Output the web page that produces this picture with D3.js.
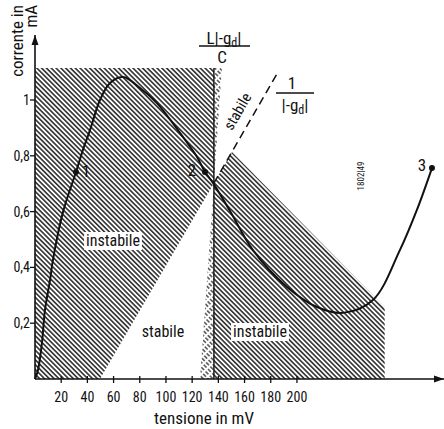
<!DOCTYPE html>
<html>
<head>
<meta charset="utf-8">
<script src="https://cdn.jsdelivr.net/npm/d3@7"></script>
<style>
	body { margin: 0; background: #fff; }
	svg text { font-family: 'Liberation Sans Narrow', 'Roboto Condensed', 'Roboto', sans-serif; font-stretch: condensed; fill: #111; }
</style>
</head>
<body>
<div id="chart"></div>
<script>

/* tick values and labels */
var xTicks = [20, 40, 60, 80, 100, 120, 140, 160, 180, 200]
var yTicks = [0.2, 0.4, 0.6, 0.8, 1]
var yTickLabels = ['0,2', '0,4', '0,6', '0,8', '1']

/* diode characteristic, tensione (mV) / corrente (mA) */
var curveV = [0, 2.3, 5.3, 7.6, 11.5, 13.7, 21.4, 31.3, 36.6, 42, 49.6, 57.3, 67.2, 80.2, 93.1, 110.7, 123.7, 129.8, 135.9, 148.9, 166.4, 192.4, 215.3, 235.1, 258, 278.6, 291.6, 303.1]
var curveI = [0, 0.032, 0.129, 0.247, 0.355, 0.427, 0.599, 0.742, 0.821, 0.892, 1.0, 1.061, 1.082, 1.043, 0.989, 0.882, 0.796, 0.742, 0.703, 0.602, 0.462, 0.330, 0.258, 0.237, 0.283, 0.462, 0.606, 0.756]

/* working points */
var pointNames = ['1', '2', '3']
var pointV = [31.3, 129.8, 303.1]
var pointI = [0.742, 0.742, 0.756]

/* hatched regions (instabile) */
var regionLeft = [[0, 1.115], [136.6, 1.115], [136.6, 0.702], [49.6, 0], [0, 0]]
var regionBand = [[136.6, 0.702], [150.4, 0.814], [267, 0.258], [267, 0], [136.6, 0]]
/* thin strips between vertical line and L|-gd|/C line */
var stripTop = [[136.6, 1.115], [142.7, 1.115], [136.6, 0.702]]
var stripBottom = [[136.6, 0.702], [136.6, 0], [126, 0]]

/* boundary lines */
var lineVert = [[136.6, 1.115], [136.6, 0]]
var lineGd = [[136.6, 0.702], [185.5, 1.10]]

var width = 444, height = 429

var x = d3.scaleLinear().domain([0, 310]).range([35, 441])
var y = d3.scaleLinear().domain([0, 1]).range([379, 100])

var svg = d3.select('#chart').append('svg')
	.attr('width', width)
	.attr('height', height)

var defs = svg.append('defs')

var hatch = defs.append('pattern')
	.attr('id', 'hatch')
	.attr('patternUnits', 'userSpaceOnUse')
	.attr('width', 3.4)
	.attr('height', 10)
	.attr('patternTransform', 'rotate(-45)')
hatch.append('line')
	.attr('x1', 1.7).attr('y1', -1)
	.attr('x2', 1.7).attr('y2', 11)
	.attr('stroke', '#111')
	.attr('stroke-width', 1.4)

var hatch2 = defs.append('pattern')
	.attr('id', 'hatch2')
	.attr('patternUnits', 'userSpaceOnUse')
	.attr('width', 3.4)
	.attr('height', 6)
	.attr('patternTransform', 'rotate(-45)')
hatch2.append('line')
	.attr('x1', 1.7).attr('y1', 0)
	.attr('x2', 1.7).attr('y2', 4)
	.attr('stroke', '#222')
	.attr('stroke-width', 1.2)

var arrow = defs.append('marker')
	.attr('id', 'arrow')
	.attr('viewBox', '0 0 10 10')
	.attr('refX', 10).attr('refY', 5)
	.attr('markerWidth', 10).attr('markerHeight', 10)
	.attr('markerUnits', 'userSpaceOnUse')
	.attr('orient', 'auto')
arrow.append('path')
	.attr('d', 'M0,1.5 L10,5 L0,8.5 Z')
	.attr('fill', '#111')

var poly = d3.line()
	.x(function (d) { return x(d[0]) })
	.y(function (d) { return y(d[1]) })

/* hatched areas */
svg.append('path').datum(regionLeft)
	.attr('d', function (d) { return poly(d) + 'Z' })
	.attr('fill', 'url(#hatch)')
svg.append('path').datum(regionBand)
	.attr('d', function (d) { return poly(d) + 'Z' })
	.attr('fill', 'url(#hatch)')
svg.selectAll('.strip').data([stripTop, stripBottom]).enter()
	.append('path')
	.attr('class', 'strip')
	.attr('d', function (d) { return poly(d) + 'Z' })
	.attr('fill', 'url(#hatch2)')

/* boundary lines */
svg.append('path').datum(lineVert)
	.attr('d', poly)
	.attr('stroke', '#111')
	.attr('stroke-width', 1.4)
	.attr('fill', 'none')
svg.append('path').datum(lineGd)
	.attr('d', poly)
	.attr('stroke', '#111')
	.attr('stroke-width', 1.5)
	.attr('stroke-dasharray', '8,5')
	.attr('fill', 'none')

/* labels with white knockout */
function label(txt, px, py, size, knock, rot) {
	var g = svg.append('g')
		.attr('transform', 'translate(' + px + ',' + py + ')' + (rot ? ' rotate(' + rot + ')' : ''))
	var t = g.append('text')
		.attr('text-anchor', 'middle')
		.attr('font-size', size)
		.text(txt)
	if (knock) {
		var b = t.node().getBBox()
		g.insert('rect', 'text')
			.attr('x', b.x - 2).attr('y', b.y + 1)
			.attr('width', b.width + 4).attr('height', b.height - 1)
			.attr('fill', '#fff')
	}
	return g
}

label('instabile', 113, 246, 16, true)
label('stabile', 163, 337, 16, false)
label('instabile', 260, 337, 16, true)
label('stabile', 242, 114, 15, false, -60)

/* axes */
svg.append('line')
	.attr('x1', x(0)).attr('y1', y(0))
	.attr('x2', 444).attr('y2', y(0))
	.attr('stroke', '#111').attr('stroke-width', 1.6)
	.attr('marker-end', 'url(#arrow)')
svg.append('line')
	.attr('x1', x(0)).attr('y1', y(0))
	.attr('x2', x(0)).attr('y2', 35)
	.attr('stroke', '#111').attr('stroke-width', 1.6)
	.attr('marker-end', 'url(#arrow)')

var xAxisG = svg.append('g')
xAxisG.selectAll('line').data(xTicks).enter()
	.append('line')
	.attr('x1', x).attr('x2', x)
	.attr('y1', y(0) - 3).attr('y2', y(0) + 4)
	.attr('stroke', '#111').attr('stroke-width', 1.3)
xAxisG.selectAll('text').data(xTicks).enter()
	.append('text')
	.attr('x', x)
	.attr('y', 402)
	.attr('text-anchor', 'middle')
	.attr('font-size', 14)
	.text(function (d) { return d })

var yAxisG = svg.append('g')
yAxisG.selectAll('line').data(yTicks).enter()
	.append('line')
	.attr('x1', x(0) - 5).attr('x2', x(0))
	.attr('y1', y).attr('y2', y)
	.attr('stroke', '#111').attr('stroke-width', 1.3)
yAxisG.selectAll('text').data(yTicks).enter()
	.append('text')
	.attr('x', x(0) - 5)
	.attr('y', function (d) { return y(d) + 5 })
	.attr('text-anchor', 'end')
	.attr('font-size', 14)
	.text(function (d, i) { return yTickLabels[i] })

svg.append('text')
	.attr('x', 204).attr('y', 424)
	.attr('text-anchor', 'middle')
	.attr('font-size', 17)
	.text('tensione in mV')

svg.append('text')
	.attr('transform', 'translate(23,5) rotate(-90)')
	.attr('text-anchor', 'end')
	.attr('font-size', 17)
	.text('corrente in')
svg.append('text')
	.attr('transform', 'translate(37,5) rotate(-90)')
	.attr('text-anchor', 'end')
	.attr('font-size', 17)
	.text('mA')

/* characteristic curve */
var curveData = curveV.map(function (v, i) { return [v, curveI[i]] })
svg.append('path').datum(curveData)
	.attr('d', d3.line()
		.curve(d3.curveCatmullRom)
		.x(function (d) { return x(d[0]) })
		.y(function (d) { return y(d[1]) }))
	.attr('stroke', '#111')
	.attr('stroke-width', 2)
	.attr('fill', 'none')

var pts = pointNames.map(function (n, i) { return { name: n, v: pointV[i], i: pointI[i] } })
svg.selectAll('.pt').data(pts).enter()
	.append('circle')
	.attr('class', 'pt')
	.attr('cx', function (d) { return x(d.v) })
	.attr('cy', function (d) { return y(d.i) })
	.attr('r', 3)
	.attr('fill', '#111')
var ptOffset = [[10, 5], [-13, 4], [-10, 3]]
svg.selectAll('.ptlabel').data(pts).enter()
	.append('text')
	.attr('class', 'ptlabel')
	.attr('x', function (d, i) { return x(d.v) + ptOffset[i][0] })
	.attr('y', function (d, i) { return y(d.i) + ptOffset[i][1] })
	.attr('text-anchor', 'middle')
	.attr('font-size', 17)
	.text(function (d) { return d.name })

/* fraction labels */
var f1 = svg.append('text')
	.attr('x', 224).attr('y', 44)
	.attr('text-anchor', 'middle')
	.attr('font-size', 17)
f1.append('tspan').text('L|-g')
f1.append('tspan').attr('font-size', 12).attr('dy', 3).text('d')
f1.append('tspan').attr('dy', -3).text('|')
svg.append('line')
	.attr('x1', 199).attr('x2', 250)
	.attr('y1', 46).attr('y2', 46)
	.attr('stroke', '#111').attr('stroke-width', 1.3)
svg.append('text')
	.attr('x', 222).attr('y', 63)
	.attr('text-anchor', 'middle')
	.attr('font-size', 17)
	.text('C')

svg.append('text')
	.attr('x', 292).attr('y', 89)
	.attr('text-anchor', 'middle')
	.attr('font-size', 17)
	.text('1')
svg.append('line')
	.attr('x1', 276).attr('x2', 314)
	.attr('y1', 93).attr('y2', 93)
	.attr('stroke', '#111').attr('stroke-width', 1.3)
var f2 = svg.append('text')
	.attr('x', 295).attr('y', 111)
	.attr('text-anchor', 'middle')
	.attr('font-size', 17)
f2.append('tspan').text('|-g')
f2.append('tspan').attr('font-size', 12).attr('dy', 3).text('d')
f2.append('tspan').attr('dy', -3).text('|')

svg.append('text')
	.attr('transform', 'translate(364,176) rotate(-90)')
	.attr('text-anchor', 'middle')
	.attr('font-size', 9)
	.text('1802|49')

</script>
</body>
</html>
